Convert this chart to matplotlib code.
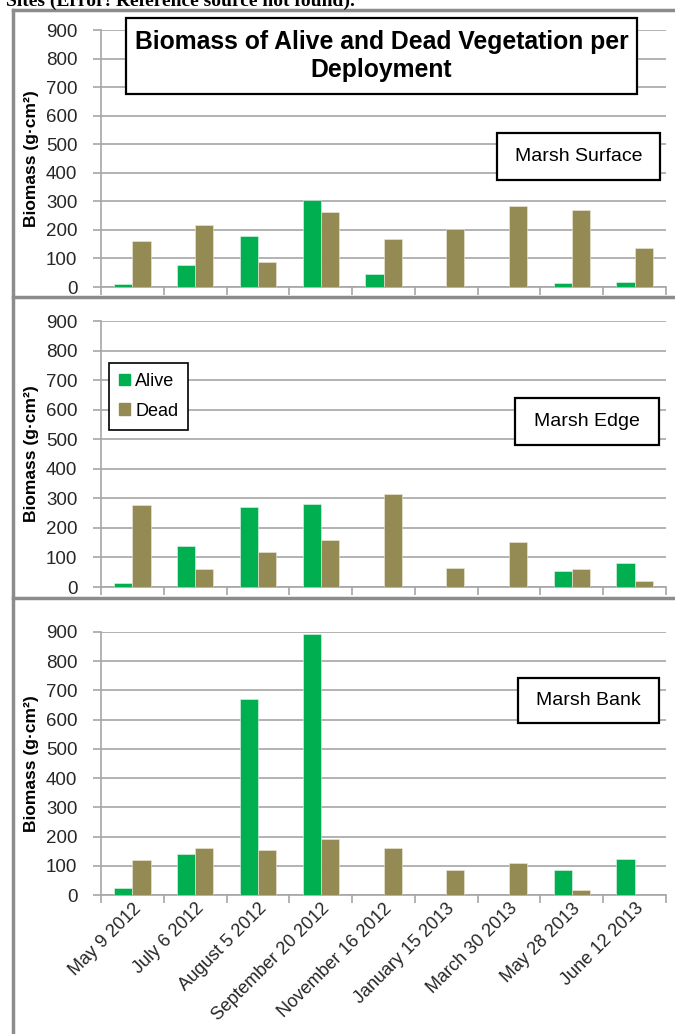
import matplotlib.pyplot as plt
import numpy as np
from matplotlib.patches import Rectangle, Patch
from matplotlib.lines import Line2D

plt.rcParams['font.family'] = ['Liberation Sans', 'DejaVu Sans']

dates = ["May 9 2012", "July 6 2012", "August 5 2012", "September 20 2012",
         "November 16 2012", "January 15 2013", "March 30 2013",
         "May 28 2013", "June 12 2013"]

surface_alive = [12, 77, 180, 304, 45, 0, 0, 15, 19]
surface_dead = [162, 216, 89, 261, 169, 202, 283, 268, 136]

edge_alive = [12, 138, 271, 282, 0, 0, 0, 53, 81]
edge_dead = [278, 60, 120, 158, 313, 63, 151, 60, 21]

bank_alive = [25, 139, 672, 893, 0, 0, 0, 87, 122]
bank_dead = [121, 161, 154, 193, 161, 87, 111, 18, 0]

GREEN = '#00b050'
OLIVE = '#948a54'
GRID = '#a6a6a6'
W, H = 675, 1034

fig = plt.figure(figsize=(W / 100, H / 100), dpi=100)


def fx(px):
    return px / W


def fy(py):
    return 1 - py / H


def box(x0, y0, x1, y1, text, size, weight='normal'):
    fig.add_artist(Rectangle((fx(x0), fy(y1)), fx(x1 - x0), (y1 - y0) / H,
                             transform=fig.transFigure, facecolor='white',
                             edgecolor='black', lw=1.6, zorder=5))
    fig.text(fx((x0 + x1) / 2), fy((y0 + y1) / 2), text, ha='center', va='center',
             fontsize=size, fontweight=weight, zorder=6, linespacing=1.25)


# outer frame of the document figure
frame = dict(color='#8c8c8c', lw=2.5, transform=fig.transFigure)
fig.add_artist(Line2D([fx(13), fx(13)], [fy(10), 0], **frame))
for yy in [10, 297, 598]:
    fig.add_artist(Line2D([fx(13), 1], [fy(yy), fy(yy)], **frame))

# cut-off caption at the very top
fig.text(fx(6), fy(6), "Sites (Error! Reference source not found).", ha='left',
         va='baseline', fontsize=14, fontweight='bold', family='Liberation Serif')

panels = [
    ("Marsh Surface", surface_alive, surface_dead, 30, 287, (497, 133, 660, 180)),
    ("Marsh Edge", edge_alive, edge_dead, 321, 587, (515, 398, 659, 445)),
    ("Marsh Bank", bank_alive, bank_dead, 632, 895, (518, 678, 659, 723)),
]

x = np.arange(len(dates))
bw = 0.29
for i, (name, alive, dead, top, bot, lb) in enumerate(panels):
    ax = fig.add_axes([fx(101), fy(bot), fx(666 - 101), (bot - top) / H])
    ax.bar(x - bw / 2, alive, bw, color=GREEN, edgecolor='#e8f5ec', lw=0.4, zorder=3, label='Alive')
    ax.bar(x + bw / 2, dead, bw, color=OLIVE, edgecolor='#eeeadb', lw=0.4, zorder=3, label='Dead')
    ax.set_xlim(-0.5, len(dates) - 0.5)
    ax.set_ylim(0, 900)
    ax.set_yticks(range(0, 901, 100))
    ax.yaxis.grid(True, color=GRID, lw=1.2, zorder=0)
    ax.set_axisbelow(True)
    for s in ['top', 'right']:
        ax.spines[s].set_visible(False)
    for s in ['left', 'bottom']:
        ax.spines[s].set_color(GRID)
        ax.spines[s].set_linewidth(1.2)
    ax.tick_params(axis='y', colors=GRID, labelcolor='#262626', labelsize=13.5,
                   length=6, width=1.2, pad=11)
    ax.set_xticks(np.arange(-0.5, len(dates), 1.0), minor=True)
    ax.tick_params(axis='x', which='minor', colors=GRID, length=6, width=1.2)
    ax.tick_params(axis='x', which='major', length=0, labelsize=13, labelcolor='#262626')
    ax.set_xticks(x)
    if i == 2:
        ax.set_xticklabels(dates, rotation=45, ha='right', rotation_mode='anchor')
    else:
        ax.set_xticklabels([])
    ax.set_ylabel("Biomass (g·cm²)", fontsize=12.5, fontweight='bold')
    ax.yaxis.set_label_coords(-0.11, 0.5)
    box(*lb, name, 14)
    if i == 1:
        handles = [Patch(color=GREEN), Patch(color=OLIVE)]
        leg = ax.legend(handles, ['Alive', 'Dead'], loc='upper left',
                        bbox_to_anchor=(fx(109), fy(363)), bbox_transform=fig.transFigure,
                        fancybox=False, edgecolor='black', framealpha=1,
                        handlelength=0.6, handleheight=0.6, handletextpad=0.3,
                        labelspacing=0.7, borderpad=0.55, borderaxespad=0,
                        prop={'size': 13})
        leg.get_frame().set_linewidth(1.2)
        leg.set_zorder(6)

box(126, 18, 637, 94, "Biomass of Alive and Dead Vegetation per\nDeployment", 17.8, 'bold')

fig.savefig("out.png", dpi=100)
